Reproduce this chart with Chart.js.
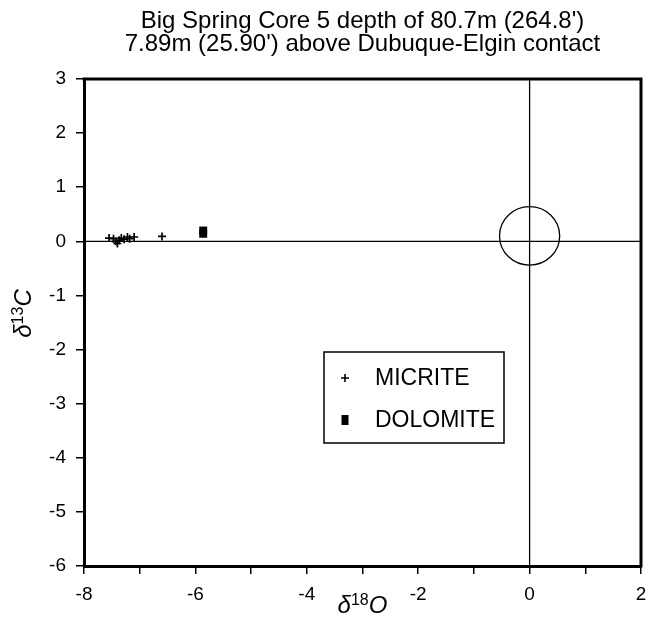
<!DOCTYPE html>
<html><head><meta charset="utf-8">
<script src="https://cdn.jsdelivr.net/npm/chart.js@4.4.1/dist/chart.umd.min.js"></script>
<style>html,body{margin:0;padding:0;background:#fff}#wrap{width:656px;height:628px}</style>
</head><body><div id="wrap"><canvas id="c" width="656" height="628"></canvas></div>
<script>
const titleLines = ["Big Spring Core 5 depth of 80.7m (264.8')", "7.89m (25.90') above Dubuque-Elgin contact"];
const xTitleParts = ["\u03B4", "18", "O"];
const yTitleParts = ["\u03B4", "13", "C"];
const micriteX = [-7.55, -7.47, -7.43, -7.40, -7.37, -7.33, -7.28, -7.22, -7.18, -7.10, -6.60];
const micriteY = [0.06, 0.05, 0.00, -0.04, 0.02, 0.06, 0.04, 0.08, 0.05, 0.08, 0.09];
const dolomiteX = [-5.86, -5.86];
const dolomiteY = [0.20, 0.14];
const legendLabels = ["MICRITE", "DOLOMITE"];
const xRange = [-8, 2];
const yRange = [-6, 3];
const circleCenter = [0, 0.1];
const circleRadius = 0.54;

const FONT = "'Liberation Sans', Arial, sans-serif";

const micrite = micriteX.map((x, i) => ({x, y: micriteY[i]}));
const dolomite = dolomiteX.map((x, i) => ({x, y: dolomiteY[i]}));

function drawSupTitle(ctx, parts, cx, cy) {
  const big = "italic 24px " + FONT, small = "16px " + FONT;
  ctx.font = big; const w0 = ctx.measureText(parts[0]).width;
  ctx.font = small; const w1 = ctx.measureText(parts[1]).width;
  ctx.font = big; const w2 = ctx.measureText(parts[2]).width;
  let x = cx - (w0 + w1 + w2) / 2;
  ctx.textAlign = 'left'; ctx.textBaseline = 'alphabetic';
  const base = cy + 8;
  ctx.font = big; ctx.fillText(parts[0], x, base); x += w0;
  ctx.font = small; ctx.fillText(parts[1], x, base - 8); x += w1;
  ctx.font = big; ctx.fillText(parts[2], x, base);
}

const extras = {
  id: 'extras',
  afterDatasetsDraw(chart) {
    const {ctx, chartArea: a, scales: {x, y}} = chart;
    ctx.save();
    const cx = x.getPixelForValue(circleCenter[0]);
    const cy = y.getPixelForValue(circleCenter[1]);
    const rx = Math.abs(x.getPixelForValue(circleRadius) - x.getPixelForValue(0));
    const ry = Math.abs(y.getPixelForValue(0) - y.getPixelForValue(circleRadius));
    ctx.beginPath();
    ctx.ellipse(cx, cy, rx, ry, 0, 0, Math.PI * 2);
    ctx.strokeStyle = '#000'; ctx.lineWidth = 1.3; ctx.stroke();
    ctx.lineWidth = 3;
    ctx.beginPath();
    ctx.moveTo(a.left - 1.5, a.top); ctx.lineTo(a.right, a.top); ctx.lineTo(a.right, a.bottom + 1.5);
    ctx.stroke();
    ctx.fillStyle = '#000';
    ctx.font = "24px " + FONT;
    ctx.textAlign = 'center'; ctx.textBaseline = 'middle';
    const tc = (a.left + a.right) / 2;
    ctx.fillText(titleLines[0], tc, 21);
    ctx.fillText(titleLines[1], tc, 44);
    // axis titles
    drawSupTitle(ctx, xTitleParts, tc, 605);
    ctx.save();
    ctx.translate(23, (a.top + a.bottom) / 2 - 9);
    ctx.rotate(-Math.PI / 2);
    drawSupTitle(ctx, yTitleParts, 0, 0);
    ctx.restore();
    // legend
    ctx.lineWidth = 1.5;
    ctx.strokeRect(324, 352, 180, 91);
    ctx.font = "23px " + FONT;
    ctx.textAlign = 'left'; ctx.textBaseline = 'middle';
    ctx.lineWidth = 1.6;
    ctx.beginPath();
    ctx.moveTo(341, 378); ctx.lineTo(349, 378);
    ctx.moveTo(345, 374); ctx.lineTo(345, 382);
    ctx.stroke();
    ctx.fillText(legendLabels[0], 375, 379);
    ctx.fillRect(341.5, 415, 7, 10);
    ctx.fillText(legendLabels[1], 375, 421);
    ctx.restore();
  }
};

new Chart(document.getElementById('c'), {
  type: 'scatter',
  data: {
    datasets: [
      {label: 'ref-h', data: [{x: xRange[0], y: 0}, {x: xRange[1], y: 0}], showLine: true, pointRadius: 0, borderColor: '#000', borderWidth: 1.3},
      {label: 'ref-v', data: [{x: 0, y: yRange[0]}, {x: 0, y: yRange[1]}], showLine: true, pointRadius: 0, borderColor: '#000', borderWidth: 1.3},
      {label: legendLabels[0], data: micrite, pointStyle: 'cross', pointRadius: 4, borderColor: '#000', borderWidth: 1.7, backgroundColor: '#000'},
      {label: legendLabels[1], data: dolomite, pointStyle: 'rect', pointRadius: 5.6, borderWidth: 0, backgroundColor: '#000', borderColor: '#000'}
    ]
  },
  options: {
    responsive: false,
    animation: false,
    layout: {padding: {left: 9, right: 15, top: 79, bottom: 10}},
    plugins: {legend: {display: false}, tooltip: {enabled: false}, title: {display: false}},
    scales: {
      x: {
        type: 'linear', min: xRange[0], max: xRange[1],
        afterFit(s) { s.height = 52; },
        ticks: {stepSize: 1, color: '#000', font: {family: FONT, size: 19}, padding: 9,
          callback: v => (Math.round(v) % 2 === 0 ? String(v) : '')},
        grid: {display: true, drawOnChartArea: false, drawTicks: true, tickLength: 8, color: '#000', lineWidth: 1.5},
        border: {display: true, color: '#000', width: 3},
        title: {display: false}
      },
      y: {
        type: 'linear', min: yRange[0], max: yRange[1],
        afterFit(s) { s.width = 75; },
        ticks: {stepSize: 1, color: '#000', font: {family: FONT, size: 19}, padding: 10},
        grid: {display: true, drawOnChartArea: false, drawTicks: true, tickLength: 8, color: '#000', lineWidth: 1.5},
        border: {display: true, color: '#000', width: 3},
        title: {display: false}
      }
    }
  },
  plugins: [extras]
});
</script></body></html>
